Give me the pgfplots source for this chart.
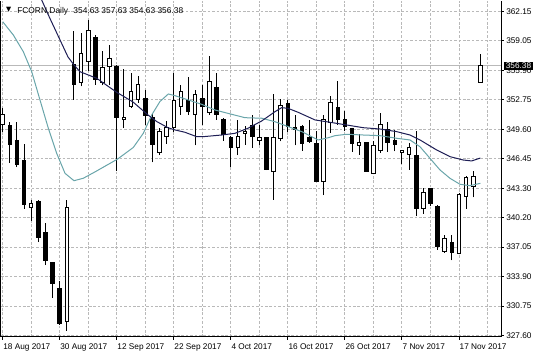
\documentclass[border=0pt]{standalone}
\usepackage{pgfplots}
\pgfplotsset{compat=1.18}
\usepackage{pgfplotstable}
\usepackage{fontspec}
\setmainfont{Liberation Sans}
\newfontfamily\symfont{DejaVu Sans}
\definecolor{gridc}{RGB}{185,185,185}
\definecolor{maslow}{RGB}{30,30,85}
\definecolor{mafast}{RGB}{105,165,170}
\definecolor{pricel}{RGB}{185,185,185}
\tikzset{candle/.style={black, line width=0.75pt}}

\pgfplotstableread{
i open high low close
0 350.12 351.90 349.34 351.19
1 350.01 350.41 346.03 347.99
2 348.41 350.41 345.57 345.85
3 346.31 348.06 341.12 341.58
4 341.30 342.12 339.87 341.69
5 341.94 342.04 337.56 338.10
6 338.56 339.62 335.11 335.61
7 335.36 335.50 331.62 333.11
8 332.58 333.40 328.77 328.85
9 329.13 342.12 328.13 341.23
10 356.52 360.15 352.79 354.39
11 354.64 359.90 354.21 357.66
12 356.88 361.33 355.81 360.15
13 359.44 359.65 354.39 354.92
14 354.57 357.95 354.32 356.17
15 356.35 358.66 354.39 357.16
16 356.35 356.50 345.14 350.83
17 350.62 356.10 349.76 350.90
18 352.08 355.63 351.90 353.61
19 352.79 355.28 352.43 354.39
20 352.86 353.86 350.12 351.12
21 350.83 351.37 346.10 347.99
22 347.10 349.76 346.85 349.41
23 348.87 350.55 348.06 349.84
24 349.84 355.63 349.34 352.68
25 352.08 354.39 351.19 353.61
26 352.68 355.17 351.19 351.54
27 351.19 353.86 347.91 353.32
28 352.90 354.39 350.12 352.08
29 351.37 357.41 351.19 354.67
30 354.11 355.63 350.65 351.19
31 350.65 350.80 348.41 349.05
32 348.70 348.87 345.57 347.63
33 347.63 350.65 346.85 348.87
34 349.12 349.94 347.99 349.41
35 350.05 351.19 347.63 348.87
36 348.41 350.12 347.91 348.70
37 348.70 348.75 345.25 345.32
38 345.14 353.39 342.12 348.70
39 348.63 352.90 348.34 352.18
40 352.33 352.79 349.34 349.94
41 349.84 351.19 347.91 349.59
42 349.94 350.12 347.35 348.06
43 348.70 350.65 348.16 348.34
44 348.06 349.41 344.00 344.07
45 344.07 351.19 342.58 350.65
46 350.30 353.14 349.23 352.43
47 351.97 354.75 350.12 350.65
48 350.65 351.54 349.41 349.94
49 349.66 349.76 347.20 348.06
50 347.91 349.12 346.92 348.16
51 348.16 348.20 345.10 345.14
52 344.86 348.34 344.80 347.91
53 347.35 351.37 347.10 350.12
54 349.59 350.41 347.20 348.16
55 348.41 349.59 347.27 347.99
56 347.13 347.40 345.92 347.35
57 346.92 348.16 345.32 347.63
58 346.85 349.41 340.34 341.16
59 341.16 343.36 340.59 342.83
60 343.29 343.36 341.40 341.65
61 341.40 341.58 336.78 337.13
62 336.53 338.38 336.42 337.95
63 337.56 338.38 335.61 336.42
64 336.32 342.83 336.25 342.65
65 342.47 344.61 341.16 344.43
66 343.54 345.14 342.36 344.61
67 354.63 357.63 354.63 356.38
}\candles

\pgfplotstableread{
i v
0 372.5
5.47 363.43
6.40 361.83
9.16 357.34
10.0 356.49
10.84 355.77
13.18 355.07
15.99 353.57
18.27 352.54
20.38 351.15
21.64 350.43
23.18 349.79
24.17 349.55
25.57 349.30
27.21 348.83
28.09 348.83
30.72 349.01
32.58 349.19
34.40 349.73
36.33 350.51
38.19 351.50
39.13 351.93
40.01 351.86
41.42 351.44
43.80 350.62
45.90 350.37
48.25 350.08
50.57 349.79
52.92 349.65
55.26 349.37
57.12 349.01
58.53 348.48
60.87 347.41
62.73 346.70
64.60 346.34
65.78 346.24
67.00 346.55
}\maslowtab

\pgfplotstableread{
i v
0 361.11
1.49 359.69
2.89 357.91
4.07 355.77
5.23 352.75
6.40 349.73
7.57 347.06
8.74 344.92
10.00 344.13
11.30 344.39
13.18 345.17
16.13 346.45
18.32 347.68
19.72 349.19
20.90 351.15
22.06 352.59
23.23 353.39
24.17 353.21
26.03 352.75
27.91 352.29
29.78 351.68
32.12 351.22
33.98 350.86
36.33 350.80
38.19 350.43
40.06 349.90
41.94 349.37
43.34 348.83
44.26 348.48
45.67 348.72
46.61 348.94
48.25 349.09
50.57 349.01
52.92 348.94
55.26 348.66
57.12 348.48
58.53 347.76
59.93 346.52
61.33 345.28
62.73 344.39
64.13 343.75
65.53 343.60
67.00 343.85
}\mafasttab

\pgfplotstablegetrowsof{\candles}
\pgfmathtruncatemacro{\lastrow}{\pgfplotsretval-1}

\begin{document}
\begin{tikzpicture}
\path[use as bounding box] (-0.75pt,-15pt) rectangle (401.25pt,252.75pt);
\begin{axis}[
  at={(0pt,0pt)}, anchor=south west,
  scale only axis, width=375pt, height=252pt,
  xmin=-0.238, xmax=69.89, ymin=327.44, ymax=363.32,
  axis line style={draw=none},
  tick align=outside,
  major tick length=2.25pt,
  minor tick length=0pt,
  tick style={black, line width=0.75pt},
  xtick={0,8,...,64},
  xticklabels={18 Aug 2017,30 Aug 2017,12 Sep 2017,22 Sep 2017,4 Oct 2017,16 Oct 2017,26 Oct 2017,7 Nov 2017,17 Nov 2017},
  minor xtick={4,12,...,68},
  xtick pos=left,
  ytick={327.60,330.75,333.90,337.05,340.20,343.30,346.45,349.60,352.75,355.90,359.05,362.15},
  yticklabels={327.60,330.75,333.90,337.05,340.20,343.30,346.45,349.60,352.75,355.90,359.05,362.15},
  ytick pos=right, yticklabel pos=right,
  grid=both,
  major grid style={gridc, line width=0.75pt, dash pattern=on 2pt off 1.3pt},
  minor grid style={gridc, line width=0.75pt, dash pattern=on 2pt off 1.3pt},
  ticklabel style={font=\fontsize{6.2}{7}\selectfont, inner sep=0pt, text=black},
  xticklabel style={anchor=north west, xshift=0.3pt, yshift=-2.5pt},
  yticklabel style={anchor=west, xshift=1.5pt},
]
\addplot[pricel, line width=0.75pt, forget plot] coordinates {(-0.238,356.38) (69.89,356.38)};
\pgfplotsforeachungrouped \r in {0,...,\lastrow}{%
  \pgfplotstablegetelem{\r}{i}\of\candles \let\ci\pgfplotsretval
  \pgfplotstablegetelem{\r}{open}\of\candles \let\co\pgfplotsretval
  \pgfplotstablegetelem{\r}{high}\of\candles \let\ch\pgfplotsretval
  \pgfplotstablegetelem{\r}{low}\of\candles \let\cl\pgfplotsretval
  \pgfplotstablegetelem{\r}{close}\of\candles \let\cc\pgfplotsretval
  \pgfmathsetmacro\xl{\ci-0.25}%
  \pgfmathsetmacro\xr{\ci+0.25}%
  \ifdim\cc pt>\co pt \def\fc{white}\else\def\fc{black}\fi
  \edef\temp{\noexpand\draw[candle] (axis cs:\ci,\cl) -- (axis cs:\ci,\ch);
    \noexpand\filldraw[candle, fill=\fc] (axis cs:\xl,\co) rectangle (axis cs:\xr,\cc);}%
  \temp
}
\addplot[mafast, line width=0.75pt] table[x=i, y=v] {\mafasttab};
\addplot[maslow, line width=0.75pt] table[x=i, y=v] {\maslowtab};
\coordinate (pl) at (axis cs:69.89,356.38);
\end{axis}
\draw[black, line width=0.75pt] (0pt,252pt) -- (0pt,0pt) -- (375pt,0pt) -- (375pt,252pt);
\node[fill=black, text=white, anchor=west, inner xsep=1.2pt, inner ysep=0pt, text height=4.6pt, text depth=1.2pt, font=\fontsize{6.2}{7}\selectfont, xshift=2.25pt] at (pl) {356.38};
\node[inner sep=0pt, font=\symfont\fontsize{5}{5}\selectfont] at (5.8pt,245.2pt) {▼};
\node[inner sep=0pt, anchor=base west, font=\fontsize{6.3}{7}\selectfont] at (12pt,242.8pt) {FCORN,Daily\hspace{4pt}354.63 357.63 354.63 356.38};
\end{tikzpicture}
\end{document}
